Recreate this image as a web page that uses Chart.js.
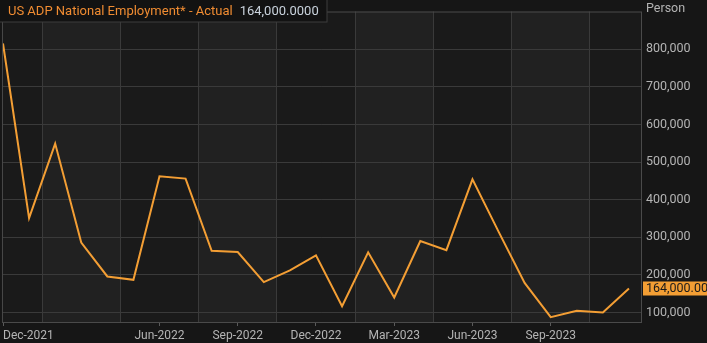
<!DOCTYPE html>
<html>
<head>
<meta charset="utf-8">
<script src="https://cdn.jsdelivr.net/npm/chart.js@4"></script>
<style>
  html, body { margin: 0; padding: 0; background: #161616; }
  #wrap { width: 707px; height: 343px; position: relative; }
</style>
</head>
<body>
<div id="wrap"><canvas id="chart" width="707" height="343"></canvas></div>
<script>
// Data
const months = ['Dec-2021', 'Jan-2022', 'Feb-2022', 'Mar-2022', 'Apr-2022', 'May-2022', 'Jun-2022',
    'Jul-2022', 'Aug-2022', 'Sep-2022', 'Oct-2022', 'Nov-2022', 'Dec-2022', 'Jan-2023', 'Feb-2023',
    'Mar-2023', 'Apr-2023', 'May-2023', 'Jun-2023', 'Jul-2023', 'Aug-2023', 'Sep-2023', 'Oct-2023',
    'Nov-2023', 'Dec-2023'];
const employment = [815000, 351000, 549000, 286000, 196000, 187000, 462000, 456000, 264000, 261000,
    181000, 212000, 252000, 117000, 260000, 140000, 290000, 266000, 454000, 315000,
    179000, 88000, 105000, 100000, 164000];
const labelTicks = [0, 6, 9, 12, 15, 18, 21, 24];
const gridTicks = [1.5, 4.5, 7.5, 10.5, 13.5, 16.5, 19.5, 22.5];
const yTicks = [100000, 200000, 300000, 400000, 500000, 600000, 700000, 800000];
const seriesName = 'US ADP National Employment* - Actual';
const lastValueText = '164,000.0000';

const ORANGE = '#f39e34';
const GRID = '#3a3a3a';
const TEXT = '#b4b4b4';
const FONT = 'Roboto, "Open Sans", sans-serif';

const fmt = v => Math.round(v).toLocaleString('en-US');

// background bands (under the grid), border, header, last value tag
const decor = {
    id: 'decor',
    beforeDraw(chart) {
        const { ctx, chartArea: a } = chart;
        const x = chart.scales.x2;
        const edges = [x.min].concat(gridTicks, [x.max]);
        ctx.save();
        for (let i = 0; i < edges.length - 1; i++) {
            const l = x.getPixelForValue(edges[i]);
            const r = x.getPixelForValue(edges[i + 1]);
            ctx.fillStyle = i % 2 === 0 ? '#1a1a1a' : '#212121';
            ctx.fillRect(l, a.top, r - l, a.bottom - a.top);
        }
        ctx.restore();
    },
    afterDraw(chart) {
        const { ctx, chartArea: a } = chart;
        const y = chart.scales.y;
        ctx.save();
        // plot border
        ctx.strokeStyle = '#4a4a4a';
        ctx.lineWidth = 1;
        ctx.strokeRect(a.left + 0.5, a.top + 0.5, a.right - a.left - 1, a.bottom - a.top);

        // header box
        ctx.fillStyle = '#121212';
        ctx.fillRect(0, 0, 327, 22);
        ctx.strokeStyle = '#3c3c3c';
        ctx.strokeRect(-0.5, -0.5, 327.5, 22.5);
        ctx.font = '13px ' + FONT;
        ctx.textBaseline = 'middle';
        ctx.textAlign = 'left';
        ctx.fillStyle = '#f08c32';
        ctx.fillText(seriesName, 8, 11.5);
        const nameEnd = 8 + ctx.measureText(seriesName).width;
        ctx.fillStyle = '#c9d2dc';
        ctx.fillText(lastValueText, nameEnd + 7, 11.5);

        // axis unit
        ctx.font = '12.5px ' + FONT;
        ctx.fillStyle = TEXT;
        ctx.fillText('Person', a.right + 4, 8.5);

        // last value tag
        const last = employment[employment.length - 1];
        const py = y.getPixelForValue(last);
        ctx.fillStyle = ORANGE;
        ctx.fillRect(a.right + 1, py - 7, chart.width - a.right, 14);
        ctx.fillStyle = '#1a1a1a';
        ctx.fillText(fmt(last) + '.0000', a.right + 4, py + 0.5);
        ctx.restore();
    }
};

new Chart(document.getElementById('chart'), {
    type: 'line',
    data: {
        datasets: [{
            data: employment.map((v, i) => ({ x: i, y: v })),
            borderColor: ORANGE,
            borderWidth: 2,
            pointRadius: 0,
            tension: 0,
            fill: false
        }]
    },
    options: {
        responsive: false,
        animation: false,
        layout: { autoPadding: false, padding: { top: 5, left: 0, right: 0, bottom: 0 } },
        plugins: { legend: { display: false }, tooltip: { enabled: false } },
        scales: {
            x: {
                type: 'linear',
                min: -0.04,
                max: 24.5,
                afterBuildTicks: s => { s.ticks = labelTicks.map(v => ({ value: v })); },
                afterFit: s => { s.height = 21; },
                ticks: {
                    align: 'inner',
                    maxRotation: 0,
                    autoSkip: false,
                    padding: 3,
                    color: TEXT,
                    font: { family: FONT, size: 12 },
                    callback: v => (v === 24 ? '' : months[v])
                },
                grid: {
                    drawOnChartArea: false,
                    drawTicks: true,
                    tickLength: 4,
                    tickColor: c => (c.tick && c.tick.value === 24 ? 'rgba(0,0,0,0)' : '#5a5a5a')
                },
                border: { display: false }
            },
            x2: {
                type: 'linear',
                position: 'bottom',
                min: -0.04,
                max: 24.5,
                display: true,
                afterBuildTicks: s => { s.ticks = gridTicks.map(v => ({ value: v })); },
                afterFit: s => { s.height = 0; },
                ticks: { display: false },
                grid: { color: GRID, drawTicks: false },
                border: { display: false }
            },
            y: {
                position: 'right',
                min: 75000,
                max: 900000,
                afterBuildTicks: s => { s.ticks = yTicks.map(v => ({ value: v })); },
                afterFit: s => { s.width = 65; },
                ticks: {
                    padding: 4,
                    color: TEXT,
                    font: { family: FONT, size: 12.5 },
                    callback: v => fmt(v)
                },
                grid: { color: GRID, drawTicks: false },
                border: { display: false }
            }
        }
    },
    plugins: [decor]
});
</script>
</body>
</html>
